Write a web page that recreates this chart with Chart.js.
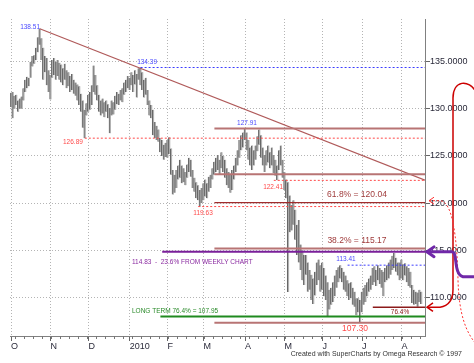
<!DOCTYPE html>
<html>
<head>
<meta charset="utf-8">
<script src="https://cdn.jsdelivr.net/npm/chart.js@4.4.1/dist/chart.umd.min.js"></script>
<style>
html, body { margin: 0; padding: 0; background: #fff; }
#wrap { width: 474px; height: 363px; }
</style>
</head>
<body>
<div id="wrap"><canvas id="graphique" width="474" height="363"></canvas></div>
<script>
// x = trading day since 1 Oct 2009
const monthTicks = [0, 22, 43, 66, 87, 107, 130, 152, 173, 195, 217];
const monthLabels = ['O', 'N', 'D', '2010', 'F', 'M', 'A', 'M', 'J', 'J', 'A'];
const priceTicks = [110, 115, 120, 125, 130, 135];

const highs = [
  131.7, 131.8, 131.4, 131.5, 130.9, 131.1, 131.3, 132.2, 133.1, 133.4,
  133.3, 135.0, 135.6, 135.7, 136.5, 137.6, 138.51, 137.5, 136.5, 135.6,
  135.4, 134.1, 133.6, 135.2, 135.4, 135.0, 135.2, 134.9, 134.7, 134.3,
  134.8, 134.1, 133.9, 133.5, 133.7, 133.1, 132.8, 132.6, 132.4, 131.6,
  130.9, 129.9, 130.6, 131.5, 131.8, 132.5, 134.6, 133.6, 132.5, 131.5,
  130.9, 131.1, 130.7, 130.9, 130.5, 130.1, 130.9, 130.7, 131.4, 131.8,
  131.6, 132.0, 132.2, 132.8, 133.1, 133.5, 133.3, 133.9, 133.6, 134.1,
  133.7, 134.3, 134.39, 133.9, 133.1, 133.3, 132.0, 130.9, 130.4, 129.9,
  128.6, 128.2, 127.8, 126.9, 126.7, 126.2, 126.4, 126.7, 127.0, 125.8,
  123.5, 123.0, 123.5, 124.0, 124.6, 124.0, 123.7, 123.3, 124.1, 124.8,
  124.6, 123.5, 122.7, 122.2, 121.9, 121.4, 121.6, 122.1, 122.5, 122.1,
  122.8, 123.0, 123.7, 124.4, 124.8, 125.1, 124.6, 125.4, 125.0, 124.6,
  123.7, 123.3, 123.0, 123.5, 124.0, 124.8, 125.6, 126.7, 127.2, 127.5,
  127.91, 127.5, 126.7, 125.9, 126.1, 125.6, 126.1, 127.1, 127.8, 127.2,
  125.9, 125.1, 125.6, 126.1, 125.4, 125.9, 125.1, 124.6, 124.0, 125.6,
  126.1, 124.6, 123.3, 122.5, 122.2, 120.8, 119.8, 120.3, 119.3, 117.7,
  118.2, 115.6, 115.0, 114.5, 114.5, 113.7, 112.9, 112.4, 112.0, 112.7,
  113.7, 114.0, 113.4, 113.7, 113.1, 112.3, 111.6, 110.8, 111.0, 111.6,
  112.3, 112.9, 113.2, 113.41, 113.1, 112.7, 112.3, 111.8, 111.5, 111.6,
  111.0, 110.6, 109.9, 109.9, 109.7, 110.6, 111.0, 111.3, 111.6, 112.0,
  112.3, 113.1, 113.3, 112.9, 113.4, 113.1, 112.9, 112.7, 113.1, 113.4,
  113.7, 114.0, 114.4, 114.7, 114.2, 113.7, 113.7, 114.0, 113.5, 113.6,
  113.3, 113.1, 112.7, 111.3, 110.8, 110.6, 110.5, 110.8, 110.6
];
const lows = [
  130.2, 129.0, 130.0, 130.4, 129.7, 130.0, 130.0, 130.9, 131.8, 132.2,
  132.4, 133.3, 134.5, 134.8, 135.2, 136.0, 136.8, 135.2, 133.1, 133.9,
  132.5, 131.8, 131.0, 133.3, 133.6, 133.1, 133.5, 133.1, 132.8, 132.5,
  133.1, 132.2, 132.4, 131.8, 132.0, 131.6, 131.4, 130.9, 130.4, 129.7,
  128.0, 126.89, 129.3, 129.7, 129.9, 130.4, 131.8, 131.5, 130.9, 129.7,
  129.3, 129.5, 129.1, 129.7, 129.0, 127.4, 129.3, 129.4, 129.9, 130.5,
  130.4, 130.9, 130.7, 131.5, 131.8, 132.2, 132.0, 132.5, 131.8, 132.6,
  131.2, 133.1, 132.5, 132.0, 131.2, 131.5, 130.4, 129.3, 129.0, 127.2,
  126.9, 126.7, 126.5, 125.4, 125.0, 124.6, 124.9, 124.8, 125.2, 123.0,
  120.9, 121.1, 121.6, 122.5, 122.7, 122.1, 122.2, 121.9, 122.7, 123.3,
  122.8, 121.6, 121.2, 120.5, 120.3, 119.63, 120.0, 120.3, 120.7, 120.5,
  121.2, 121.6, 122.5, 123.0, 123.3, 123.5, 123.0, 123.7, 123.3, 122.7,
  121.9, 121.6, 121.1, 121.4, 122.5, 123.3, 124.0, 124.8, 125.6, 125.9,
  126.7, 125.6, 124.6, 124.0, 123.5, 124.0, 124.6, 125.5, 126.2, 124.8,
  124.0, 123.3, 124.0, 124.3, 123.7, 124.0, 123.2, 122.9, 122.41, 123.5,
  124.0, 122.7, 121.4, 120.5, 110.55, 116.9, 117.1, 117.7, 116.1, 114.5,
  113.7, 112.9, 111.8, 111.3, 112.4, 110.6, 110.8, 109.7, 109.3, 110.2,
  111.3, 111.8, 110.6, 110.8, 110.1, 109.7, 107.95, 108.7, 109.2, 109.5,
  110.1, 111.0, 111.6, 112.0, 111.6, 110.8, 110.6, 110.1, 109.7, 109.9,
  109.2, 109.0, 108.1, 108.4, 107.30, 108.4, 109.2, 109.5, 110.1, 110.6,
  110.8, 111.3, 111.6, 111.2, 111.8, 111.4, 111.0, 110.1, 111.6, 111.8,
  112.0, 112.4, 112.9, 113.1, 112.7, 112.3, 111.8, 112.0, 111.8, 112.3,
  111.6, 111.2, 111.0, 109.4, 109.2, 109.3, 109.0, 109.5, 109.3
];

// drawn levels: value and first trading day of the line
const fibLevels = [127.91, 123.05, 120.04, 115.17, 107.30];
const fibStart = 113;
const redLevels = [126.89, 122.41, 119.63];
const redStarts = [41, 146, 104];
const blueLevels = [134.39, 113.41];
const blueStarts = [72, 187];
const weeklyLevel = 114.83, weeklyStart = 84;
const longTermLevel = 107.95, longTermStart = 83;
const shortLevel = 108.95, shortStart = 201;
const trendLine = [[16, 138.51], [230, 122.43]];
const lastDay = 230;

Chart.defaults.font.family = "'Liberation Sans', Arial, sans-serif";

function levelSet(v, start, color, width, dash) {
    return {
        type: 'line',
        data: [{x: start, y: v}, {x: lastDay, y: v}],
        borderColor: color,
        borderWidth: width,
        borderDash: dash || [],
        pointRadius: 0,
        order: 0
    };
}

let datasets = [];
datasets.push({
    type: 'bar',
    data: highs.map((h, i) => ({x: i, y: [lows[i], h]})),
    backgroundColor: '#b2b2b2',
    borderColor: '#5c5c5c',
    borderWidth: {left: 1, right: 0, top: 0, bottom: 0},
    borderSkipped: false,
    barThickness: 2,
    order: 1
});
for (let i = 0; i < fibLevels.length; i++) {
    let v = fibLevels[i];
    if (v === 120.04) datasets.push(levelSet(v, fibStart, '#a02c2c', 1.2));
    else datasets.push(levelSet(v, fibStart, '#b87474', 2));
}
for (let i = 0; i < redLevels.length; i++) {
    datasets.push(levelSet(redLevels[i], redStarts[i], '#ff4a4a', 1, [2, 2]));
}
for (let i = 0; i < blueLevels.length; i++) {
    datasets.push(levelSet(blueLevels[i], blueStarts[i], '#3c3cff', 1, [2, 2]));
}
datasets.push(levelSet(weeklyLevel, weeklyStart, '#7a1f9a', 2));
datasets.push(levelSet(longTermLevel, longTermStart, '#1f8a1f', 2));
datasets.push(levelSet(shortLevel, shortStart, '#8c1a1a', 1.5));
datasets.push({
    type: 'line',
    data: trendLine.map(p => ({x: p[0], y: p[1]})),
    borderColor: '#b05a5a',
    borderWidth: 1.2,
    pointRadius: 0,
    order: 0
});

// text notes anchored on (trading day, price)
const notes = [
    {t: '138.51', i: 10.6, v: 138.69, c: '#4a4aff', s: 6.5},
    {t: '134.39', i: 75.6, v: 134.98, c: '#4a4aff', s: 6.5},
    {t: '126.89', i: 34.4, v: 126.49, c: '#ff4a4a', s: 6.5},
    {t: '127.91', i: 131.1, v: 128.5, c: '#4a4aff', s: 6.5},
    {t: '119.63', i: 106.7, v: 118.95, c: '#ff4a4a', s: 6.5},
    {t: '122.41', i: 145.6, v: 121.71, c: '#ff4a4a', s: 6.5},
    {t: '113.41', i: 186.1, v: 114.07, c: '#4a4aff', s: 6.5},
    {t: '61.8% = 120.04', i: 192.2, v: 120.86, c: '#a03c3c', s: 8.5},
    {t: '38.2% = 115.17', i: 192.2, v: 115.98, c: '#a03c3c', s: 8.5},
    {t: '76.4%', i: 216.1, v: 108.44, c: '#8c1a1a', s: 6.5},
    {t: '107.30', i: 191.1, v: 106.63, c: '#ff4a4a', s: 8.5},
    {t: '114.83  -  23.6% FROM WEEKLY CHART', i: 67.2, v: 113.75, c: '#8a2aa0', s: 6.5, left: true},
    {t: 'LONG TERM 76.4% = 107.95', i: 67.2, v: 108.55, c: '#2a8a2a', s: 6.5, left: true}
];

function arrowHead(ctx, x, y, len) {
    ctx.beginPath();
    ctx.moveTo(x + len, y - len * 0.7);
    ctx.lineTo(x, y);
    ctx.lineTo(x + len, y + len * 0.7);
    ctx.stroke();
}

const annot = {
    id: 'annot',
    afterDraw(chart) {
        const ctx = chart.ctx;
        const xs = chart.scales.x, ys = chart.scales.y;
        const area = chart.chartArea;
        ctx.save();

        // weekly minor ticks
        ctx.strokeStyle = '#777';
        ctx.lineWidth = 1;
        for (let d = 2; d <= lastDay; d += 5) {
            let px = Math.round(xs.getPixelForValue(d)) + 0.5;
            ctx.beginPath();
            ctx.moveTo(px, area.bottom);
            ctx.lineTo(px, area.bottom + 3);
            ctx.stroke();
        }

        ctx.textBaseline = 'middle';
        notes.forEach(n => {
            ctx.font = n.s + "px 'Liberation Sans', Arial, sans-serif";
            ctx.fillStyle = n.c;
            ctx.textAlign = n.left ? 'left' : 'center';
            ctx.fillText(n.t, xs.getPixelForValue(n.i), ys.getPixelForValue(n.v));
        });

        ctx.font = "7px 'Liberation Sans', Arial, sans-serif";
        ctx.fillStyle = '#333';
        ctx.textAlign = 'right';
        ctx.fillText('Created with SuperCharts by Omega Research \u00a9 1997', 462, 354);

        // hand drawn marks on the right
        const x0 = area.right + 2;
        let yb = ys.getPixelForValue(shortLevel);
        ctx.strokeStyle = '#cc0000';
        ctx.lineWidth = 1.5;
        ctx.setLineDash([]);
        ctx.beginPath();
        ctx.moveTo(x0, yb);
        ctx.lineTo(440, yb);
        ctx.quadraticCurveTo(453, yb - 2, 453, yb - 18);
        ctx.lineTo(453, 98);
        ctx.bezierCurveTo(453, 80, 469, 79, 476, 92);
        ctx.stroke();
        arrowHead(ctx, x0, yb, 6);

        let yr = ys.getPixelForValue(fibLevels[2]) - 2;
        ctx.strokeStyle = '#ff3030';
        ctx.lineWidth = 1;
        ctx.setLineDash([2, 2]);
        ctx.beginPath();
        ctx.moveTo(x0 + 2, yr);
        ctx.lineTo(440, yr);
        ctx.bezierCurveTo(452, yr, 457, 235, 458, 280);
        ctx.bezierCurveTo(459, 315, 466, 332, 476, 344);
        ctx.stroke();
        ctx.setLineDash([]);
        arrowHead(ctx, x0 + 2, yr, 5);

        let yp = ys.getPixelForValue(weeklyLevel);
        ctx.strokeStyle = '#7028a8';
        ctx.lineWidth = 3;
        ctx.lineCap = 'round';
        ctx.beginPath();
        ctx.moveTo(x0, yp);
        ctx.lineTo(452, yp);
        ctx.bezierCurveTo(458, yp, 453, yp + 22, 463, yp + 25);
        ctx.lineTo(476, yp + 25);
        ctx.stroke();
        arrowHead(ctx, x0, yp, 7);

        ctx.restore();
    }
};

const ctx = document.getElementById('graphique').getContext('2d');
const myChart = new Chart(ctx, {
    type: 'bar',
    data: {datasets: datasets},
    plugins: [annot],
    options: {
        responsive: false,
        animation: false,
        devicePixelRatio: 1,
        layout: {padding: {left: 10, top: 19, right: 0, bottom: 0}},
        plugins: {legend: {display: false}, tooltip: {enabled: false}},
        scales: {
            x: {
                type: 'linear',
                offset: false,
                min: -0.556,
                max: lastDay,
                grid: {offset: false, color: '#b4b4b4', tickColor: '#666', tickLength: 5},
                border: {display: true, color: '#808080', dash: [1, 2]},
                afterBuildTicks: s => { s.ticks = monthTicks.map(v => ({value: v})); },
                afterFit: s => { s.height = 27; },
                ticks: {
                    autoSkip: false,
                    maxRotation: 0,
                    align: 'start',
                    padding: 0,
                    color: '#2a2a3a',
                    font: {size: 9},
                    callback: v => monthLabels[monthTicks.indexOf(v)]
                }
            },
            y: {
                type: 'linear',
                position: 'right',
                min: 105.89,
                max: 139.54,
                grid: {color: '#b4b4b4', tickColor: '#666', tickLength: 5},
                border: {display: true, color: '#808080', dash: [1, 2]},
                afterBuildTicks: s => { s.ticks = priceTicks.map(v => ({value: v})); },
                afterFit: s => { s.width = 49; },
                ticks: {
                    padding: 0,
                    color: '#2a2a3a',
                    font: {size: 9},
                    callback: v => v.toFixed(4)
                }
            }
        }
    }
});
</script>
</body>
</html>
